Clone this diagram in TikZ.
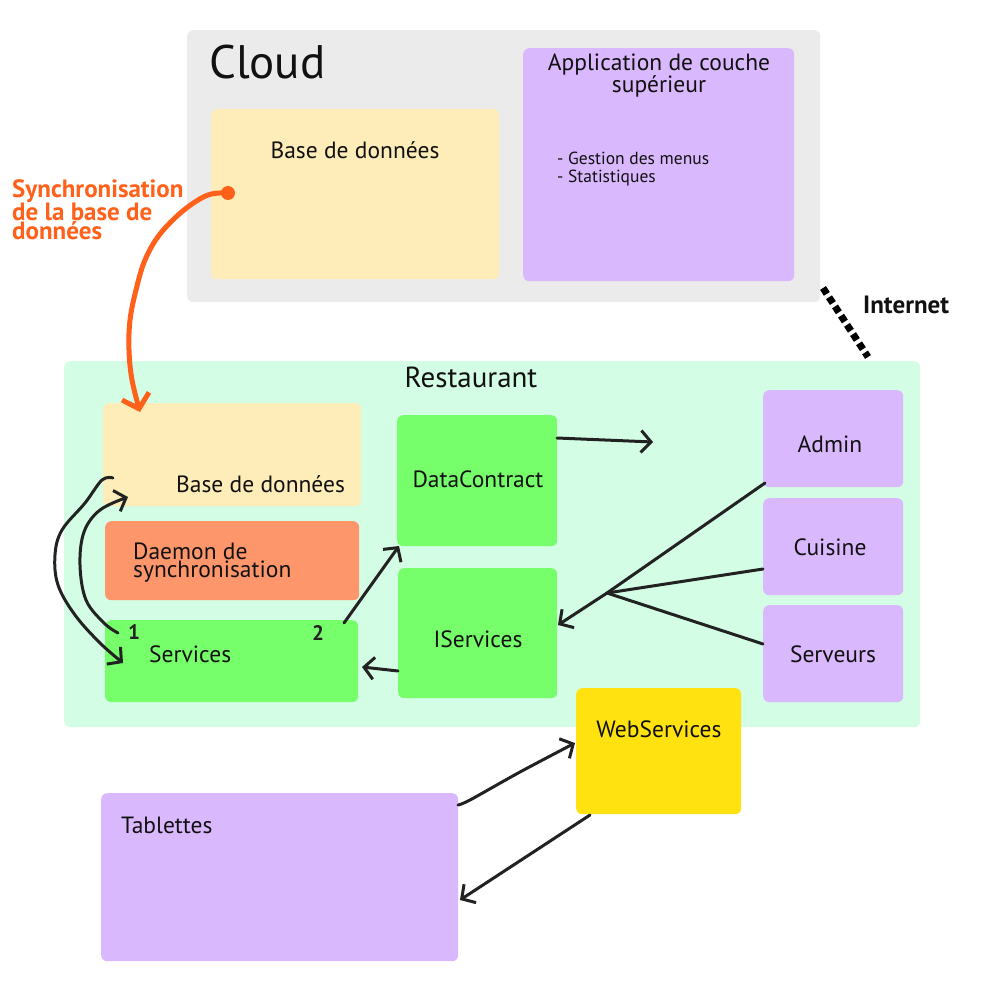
\documentclass[tikz,border=0pt]{standalone}
\usepackage{fontspec}
\setmainfont{PT Sans}
\usetikzlibrary{arrows.meta}
\definecolor{cloudgray}{HTML}{EBEBEB}
\definecolor{dbyellow}{HTML}{FEEDB8}
\definecolor{lilac}{HTML}{DAB8FD}
\definecolor{mint}{HTML}{D4FDE5}
\definecolor{lgreen}{HTML}{76FE6B}
\definecolor{salmon}{HTML}{FE966C}
\definecolor{wsyellow}{HTML}{FFE20F}
\definecolor{syncorange}{HTML}{FF601A}
\definecolor{ink}{HTML}{222222}
\definecolor{txt}{HTML}{111111}
\tikzset{
  box/.style={rectangle, rounded corners=6pt, inner sep=0pt, draw=none, anchor=north west},
  lbl/.style={inner sep=0pt, text=txt, font=\fontsize{23.5}{18}\selectfont},
  small/.style={inner sep=0pt, text=txt, font=\fontsize{17.5}{18}\selectfont},
  hand/.style={ink, line width=3pt, line cap=round, line join=round},
  tip/.style={-{Straight Barb[length=10pt,width=22pt]}},
}
\begin{document}
\begin{tikzpicture}[x=1pt,y=-1pt]
\useasboundingbox (0,0) rectangle (1000,1000);
% containers
\node[box, fill=cloudgray, minimum width=633pt, minimum height=272pt] (cloud) at (187,30) {};
\node[box, fill=mint, minimum width=856pt, minimum height=366pt] (resto) at (64,361) {};
% cloud content
\node[box, fill=dbyellow, minimum width=288pt, minimum height=170pt] (dbcloud) at (211,109) {};
\node[box, fill=lilac, minimum width=271pt, minimum height=233pt] (app) at (523,48) {};
% restaurant content
\node[box, fill=dbyellow, minimum width=258pt, minimum height=103pt] (dbresto) at (103,403) {};
\node[box, fill=salmon, minimum width=254pt, minimum height=79pt] (daemon) at (105,521) {};
\node[box, fill=lgreen, minimum width=253pt, minimum height=82pt] (services) at (105,620) {};
\node[box, fill=lgreen, minimum width=160pt, minimum height=131pt] (datacontract) at (397,415) {};
\node[box, fill=lgreen, minimum width=159pt, minimum height=130pt] (iservices) at (398,568) {};
\node[box, fill=lilac, minimum width=140pt, minimum height=97pt] (admin) at (763,390) {};
\node[box, fill=lilac, minimum width=140pt, minimum height=97pt] (cuisine) at (763,498) {};
\node[box, fill=lilac, minimum width=140pt, minimum height=97pt] (serveurs) at (763,605) {};
% outside
\node[box, fill=wsyellow, minimum width=165pt, minimum height=126pt] (webservices) at (576,688) {};
\node[box, fill=lilac, minimum width=357pt, minimum height=168pt] (tablettes) at (101,793) {};

% texts (for multi-line nodes, the base anchor is the last line's baseline)
\node[inner sep=0pt, text=txt, font=\fontsize{47}{47}\selectfont, anchor=base west] (tcloud) at (209,79) {Cloud};
\node[lbl, anchor=base] (tdbcloud) at (355,159) {Base de données};
\node[lbl, anchor=base, align=center] (tapp) at (659,93) {Application de couche\\supérieur};
\node[small, anchor=base west, align=left] (tlist) at (557,183) {- Gestion des menus\\- Statistiques};
\node[inner sep=0pt, text=txt, font=\fontsize{29}{29}\selectfont, anchor=base] (tresto) at (471,387) {Restaurant};
\node[lbl, anchor=base west] (tdbresto) at (176,492) {Base de données};
\node[lbl, anchor=base west, align=left] (tdaemon) at (133,577) {Daemon de\\synchronisation};
\node[lbl, anchor=base west] (tservices) at (149,662) {Services};
\node[lbl, anchor=base] (tdc) at (478,487) {DataContract};
\node[lbl, anchor=base] (tis) at (478,647) {IServices};
\node[lbl, anchor=base] (tadmin) at (830,452) {Admin};
\node[lbl, anchor=base] (tcuisine) at (830,555) {Cuisine};
\node[lbl, anchor=base] (tserveurs) at (833,662) {Serveurs};
\node[lbl, anchor=base] (tws) at (659,737) {WebServices};
\node[lbl, anchor=base west] (ttab) at (121,833) {Tablettes};
\node[inner sep=0pt, text=txt, font=\bfseries\fontsize{25}{25}\selectfont, anchor=base west] (tinternet) at (863,313) {Internet};
\node[inner sep=0pt, text=syncorange, font=\bfseries\fontsize{25}{18}\selectfont, anchor=base west, align=left] (tsync) at (12,240) {Synchronisation\\de la base de\\données};
\node[inner sep=0pt, text=ink, font=\bfseries\fontsize{21}{21}\selectfont, anchor=base west] (tone) at (128,639) {1};
\node[inner sep=0pt, text=ink, font=\bfseries\fontsize{21}{21}\selectfont, anchor=base west] (ttwo) at (312,640) {2};

% coordinates for connectors
\coordinate (syncdot) at (228,193);
\coordinate (c1s) at (113,478);
\coordinate (c2s) at (118,633);
\coordinate (dcout) at (557,438);
\coordinate (dcfree) at (653,442);
\coordinate (svout) at (344,623);
\coordinate (dcin) at (399,546);
\coordinate (isout) at (398,671);
\coordinate (svin) at (362,667);
\coordinate (adminout) at (765,483);
\coordinate (cuisineout) at (763,569);
\coordinate (serveursout) at (763,644);
\coordinate (junction) at (607,593);
\coordinate (isin) at (558,625);
\coordinate (tabout) at (458,805);
\coordinate (wsout) at (590,815);
\coordinate (tabin) at (460,900);
\coordinate (cloudcorner) at (823,288);
\coordinate (restocorner) at (868,357);

% internet link
\draw[black, line width=7pt, dash pattern=on 7pt off 4pt] (cloudcorner) -- (restocorner);

% orange sync
\fill[syncorange] (syncdot) circle (7pt);
\draw[syncorange, line width=5pt, line cap=round, line join=round, -{Straight Barb[length=13pt,width=28pt]}]
  plot[smooth, tension=0.6] coordinates {(syncdot) (208,195) (184,210) (160,234) (145,260) (136,290) (130,320) (129,350) (132,380) (140,412)};

% left curves
\draw[hand, tip] plot[smooth, tension=0.6] coordinates {(c1s) (102,480) (85,503) (62,530) (55,555) (58,585) (75,615) (100,643) (123,663)};
\draw[hand, tip] plot[smooth, tension=0.6] coordinates {(c2s) (104,623) (86,600) (80,565) (84,532) (100,510) (128,497)};

% straight arrows
\draw[hand, tip] (dcout) -- (dcfree);
\draw[hand, tip] (svout) -- (dcin);
\draw[hand, tip] (isout) -- (svin);
\draw[hand] (adminout) -- (junction);
\draw[hand] (cuisineout) -- (junction);
\draw[hand] (serveursout) -- (junction);
\draw[hand, tip] (junction) -- (isin);
\draw[hand, tip] plot[smooth, tension=0.5] coordinates {(tabout) (470,800) (520,772) (575,743)};
\draw[hand, tip] (wsout) -- (tabin);
\end{tikzpicture}
\end{document}
